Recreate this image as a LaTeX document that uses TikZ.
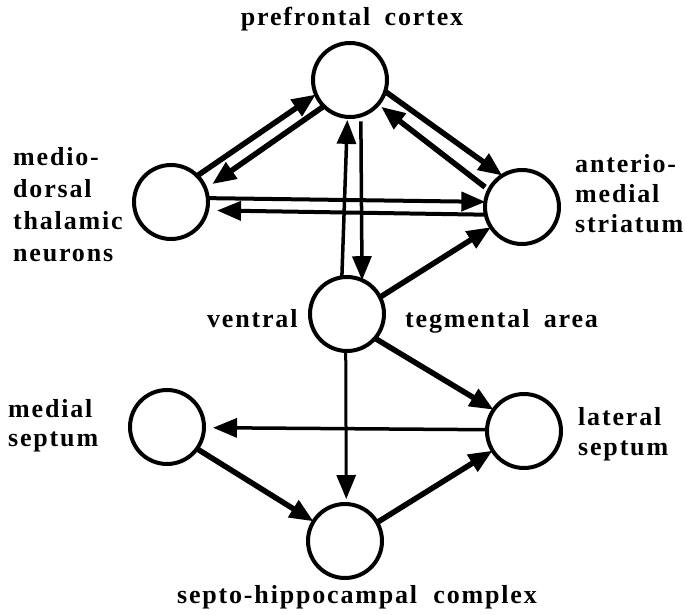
\documentclass[tikz,border=0pt]{standalone}
\usepackage{fontspec}
\usetikzlibrary{arrows.meta}
\newfontfamily\labfont[LetterSpace=7]{Liberation Serif}
\begin{document}
\begin{tikzpicture}[x=1pt,y=-1pt,
  region/.style={circle,draw,line width=4pt,minimum size=74pt,inner sep=0pt,outer sep=0pt},
  lab/.style={font=\labfont\bfseries\fontsize{26}{#1}\selectfont,inner sep=0pt,align=left},
  lab/.default=30,
  conn/.style={line width=#1,-{Triangle[length=24pt,width=19pt]}},
  conn/.default=5.5pt]
\useasboundingbox[fill=white] (0,0) rectangle (685,615);

% brain regions
\node[region] (pfc) at (350,80) {};
\node[region] (md)  at (171,202) {};
\node[region] (ams) at (522,207) {};
\node[region] (vta) at (347,314) {};
\node[region] (ms)  at (167,427) {};
\node[region] (ls)  at (524,431) {};
\node[region] (shc) at (345,541) {};

% labels
\node[lab,anchor=base] (tpfc) at (352,26) {prefrontal\hspace{6pt} cortex};
\node[lab=32,anchor=north west] (tmd) at (13,147) {medio-\\dorsal\\thalamic\\neurons};
\node[lab=30,anchor=north west] (tams) at (575,154) {anterio-\\medial\\striatum};
\node[lab,anchor=base west] (tv) at (207,327) {ventral};
\node[lab,anchor=base west] (tta) at (405,327) {tegmental\hspace{6pt} area};
\node[lab=29,anchor=north west] (tms) at (8,399) {medial\\septum};
\node[lab=30,anchor=north west] (tls) at (578,407) {lateral\\septum};
\node[lab,anchor=base] (tshc) at (357,603) {septo-hippocampal\hspace{8pt} complex};

% projections
\draw[conn] (md.45) -- (pfc.203);
\draw[conn,shorten >=8pt] (pfc.225) -- (md.21);
\draw[conn] (pfc.-18) -- (ams.122);
\draw[conn,shorten <=5pt,shorten >=4pt] (ams.153) -- (pfc.-41);
\draw[conn=4pt] (md.6) -- (ams.172);
\draw[conn=4pt,shorten >=10pt] (ams.192) -- (md.-13);
\draw[conn=3.5pt,shorten >=3pt] (vta.98) -- (pfc.-94);
\draw[conn=3.5pt,shorten <=6pt] (pfc.-73) -- (vta.66);
\draw[conn] (vta.27) -- (ams.213);
\draw[conn] (vta.-41) -- (ls.145);
\draw[conn=3pt,shorten >=5pt] (vta.-92) -- (shc.88);
\draw[conn=3.5pt,shorten >=9pt] (ls.178) -- (ms.-1);
\draw[conn] (ms.-36) -- (shc.148);
\draw[conn] (shc.30) -- (ls.212);
\end{tikzpicture}
\end{document}
